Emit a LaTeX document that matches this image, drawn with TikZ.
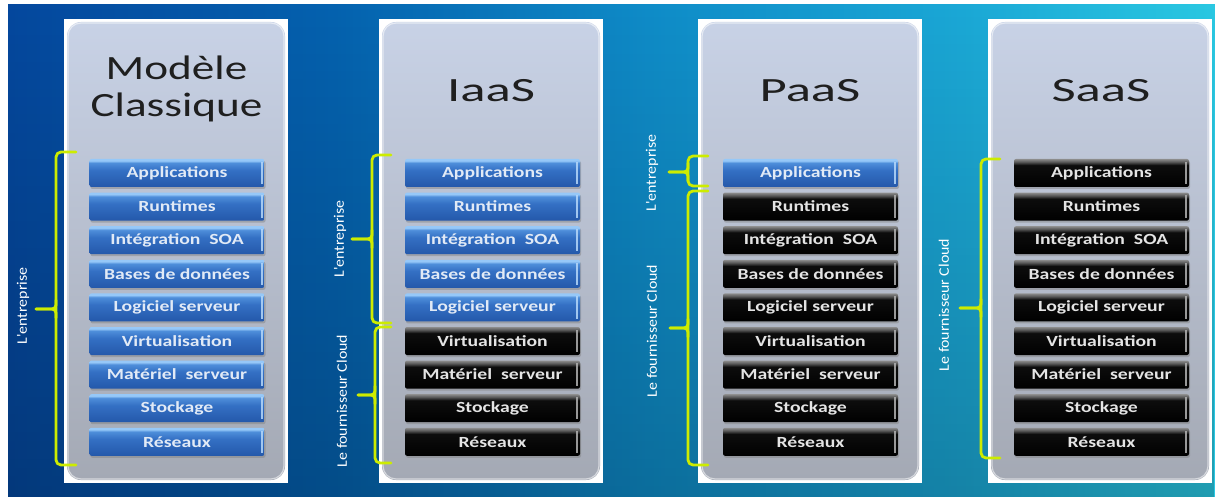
\documentclass[tikz,border=0pt]{standalone}
\usepackage{fontspec}
\setmainfont{Carlito}
\newfontfamily\boxfont[FakeStretch=1.27]{Carlito}
\newfontfamily\ttlfont[FakeStretch=1.55]{Carlito}
\newfontfamily\ttlfontb[FakeStretch=1.33]{Carlito}
\newfontfamily\lblfont[FakeStretch=1.1]{Carlito}
\usetikzlibrary{calc,shadows,fadings}

\definecolor{bgA}{RGB}{5,72,158}
\definecolor{bgB}{RGB}{5,98,175}
\definecolor{bgC}{RGB}{15,140,200}
\definecolor{bgD}{RGB}{27,168,214}
\definecolor{bgE}{RGB}{42,200,226}
\definecolor{panTop}{RGB}{200,210,230}
\definecolor{panBot}{RGB}{164,169,180}
\definecolor{blA}{RGB}{150,200,248}
\definecolor{blB}{RGB}{78,142,218}
\definecolor{blC}{RGB}{52,112,196}
\definecolor{blD}{RGB}{36,88,170}
\definecolor{bltxt}{RGB}{225,234,246}
\definecolor{bktxt}{RGB}{228,228,228}
\definecolor{brcol}{RGB}{205,236,0}

\pgfdeclarehorizontalshading{bgsh}{100bp}{color(0bp)=(bgA); color(25bp)=(bgA); color(38.5bp)=(bgB); color(51.5bp)=(bgC); color(64.5bp)=(bgD); color(75bp)=(bgE); color(100bp)=(bgE)}
\pgfdeclareverticalshading{bluesh}{100bp}{color(0bp)=(blD); color(25bp)=(blD); color(55bp)=(blC); color(68bp)=(blB); color(72bp)=(blA); color(75bp)=(blA); color(100bp)=(blA)}
\pgfdeclareverticalshading{blksh}{100bp}{color(0bp)=(black); color(25bp)=(black); color(64bp)=(black!95!white); color(70bp)=(black!65!white); color(75bp)=(black!45!white); color(100bp)=(black!45!white)}

\tikzset{
  lay/.style={minimum width=175pt, minimum height=28pt, inner sep=0pt,
    rounded corners=2pt, shade, font=\boxfont\bfseries\fontsize{15.5}{16}\selectfont,
    drop shadow={shadow xshift=1pt, shadow yshift=-2pt, opacity=0.45}},
  bluebox/.style={lay, shading=bluesh, text=bltxt},
  blackbox/.style={lay, shading=blksh, text=bktxt},
  ttl/.style={anchor=base, inner sep=0pt, text=black!88},
  lbl/.style={rotate=90, inner sep=0pt, text=white, font=\lblfont\fontsize{14.5}{16}\selectfont},
  brc/.style={draw=brcol, line width=2.8pt, line cap=round, line join=round},
}

\newcommand\drawbrace[6]{%
  \draw[brc, rounded corners=5pt] (#1,#3) -- (#2,#3) -- (#2,#4) -- (#1,#4);
  \draw[brc, rounded corners=4pt] (#2,#6-9) -- (#2,#6) -- (#5,#6);
  \draw[brc, rounded corners=4pt] (#2,#6+9) -- (#2,#6) -- (#5,#6);
}

\begin{document}
\begin{tikzpicture}[x=1pt, y=-1pt]
\useasboundingbox (0,0) rectangle (1215,497);
\fill[white] (0,0) rectangle (1215,497);
\shade[shading=bgsh] (8,5) rectangle (1215,497);
\fill[black, fill opacity=0.22, path fading=north] (8,5) rectangle (1215,497);

% panels
\foreach \xl in {64,379,698,988} {
  \fill[white] (\xl,19) rectangle (\xl+224,483);
  \shade[top color=panTop, bottom color=panBot, rounded corners=14pt]
    (\xl+3,22) rectangle (\xl+221,480);
  \draw[white, opacity=0.55, line width=1.2pt, rounded corners=13pt]
    (\xl+4,23) rectangle (\xl+220,479);
}

% titles
\node[ttl, font=\ttlfontb\fontsize{34}{40}\selectfont] (t1a) at (176.5,80) {Modèle};
\node[ttl, font=\ttlfontb\fontsize{34}{40}\selectfont] (t1b) at (176.5,117) {Classique};
\node[ttl, font=\ttlfont\fontsize{34}{40}\selectfont] (t2) at (491,102) {IaaS};
\node[ttl, font=\ttlfont\fontsize{34}{40}\selectfont] (t3) at (810,102) {PaaS};
\node[ttl, font=\ttlfont\fontsize{34}{40}\selectfont] (t4) at (1101,102) {SaaS};

% layer boxes
\foreach \px/\nb/\pn in {177/9/1, 492.5/5/2, 810.5/1/3, 1101.5/0/4} {
  \foreach \lab [count=\i] in {Applications,Runtimes,Intégration\ \ SOA,Bases de données,Logiciel serveur,Virtualisation,Matériel\ \ serveur,Stockage,Réseaux} {
    \ifnum\i>\nb\relax
      \tikzset{cur/.style={blackbox}}
      \def\edgecol{white!70!black}
    \else
      \tikzset{cur/.style={bluebox}}
      \def\edgecol{blA!70!white}
    \fi
    \node[cur] (p\pn b\i) at (\px,{173+33.6*(\i-1)}) {\lab};
    \fill[\edgecol, opacity=0.85] ($(p\pn b\i.north east)+(-4,3)$) rectangle ($(p\pn b\i.south east)+(-2,-3)$);
  }
}

% braces
\drawbrace{76}{56}{152}{465}{36}{309}
\drawbrace{391}{372}{155}{323}{352}{239}
\drawbrace{391}{375}{327}{463}{358}{395}
\drawbrace{708}{688}{156}{186}{669}{172}
\drawbrace{708}{688}{191}{465}{670}{328}
\drawbrace{1000}{981}{159}{458}{960}{308}

% labels
\node[lbl] (l1) at (23,306) {L'entreprise};
\node[lbl] (l2) at (340,239) {L'entreprise};
\node[lbl] (l3) at (342,401) {Le fournisseur Cloud};
\node[lbl] (l4) at (652,173) {L'entreprise};
\node[lbl] (l5) at (652,331) {Le fournisseur Cloud};
\node[lbl] (l6) at (944,305) {Le fournisseur Cloud};
\end{tikzpicture}
\end{document}
